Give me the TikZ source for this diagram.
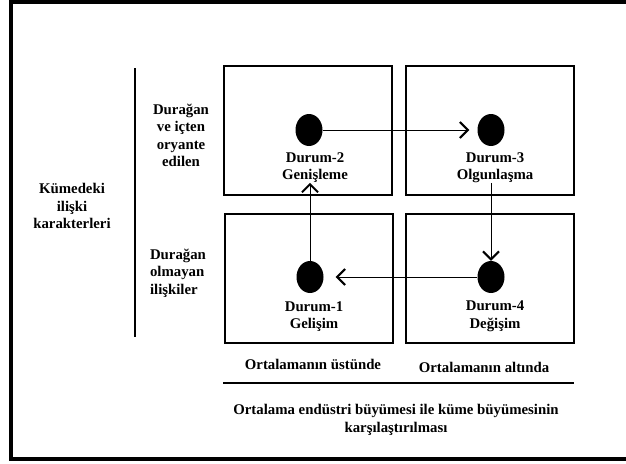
\documentclass[tikz,border=0pt]{standalone}
\usepackage{fontspec}
\setmainfont{Liberation Serif}
\usetikzlibrary{arrows.meta,shapes.geometric}
\begin{document}
\begin{tikzpicture}[x=1pt,y=-1pt,
  cell/.style={draw,line width=2pt,minimum width=168pt,minimum height=129pt,inner sep=0pt},
  dot/.style={ellipse,fill=black,minimum width=27pt,minimum height=32pt,inner sep=0pt},
  lbl/.style={font=\bfseries\fontsize{14.8}{17.5}\selectfont,align=center,inner sep=0pt},
  flow/.style={line width=0.9pt,-{Straight Barb[length=8pt,width=16pt,line width=2pt]}},
  rule/.style={line width=2.2pt}]
\useasboundingbox (0,0) rectangle (626,463);
\begin{scope}
\clip (0,0) rectangle (626,463);
\draw[line width=3.6pt] (11,2) rectangle (640,459);
\end{scope}
% cells
\node[cell] (c2) at (308,130.5) {};
\node[cell] (c3) at (490,130.5) {};
\node[cell] (c1) at (309,278) {};
\node[cell] (c4) at (490,278) {};
% dots
\node[dot] (d2) at (309,130) {};
\node[dot] (d3) at (491,130) {};
\node[dot] (d1) at (310,277) {};
\node[dot] (d4) at (491,277) {};
% state labels
\node[lbl] (l2) at (315,167.5) {Durum-2\\Genişleme};
\node[lbl] (l3) at (495,167.5) {Durum-3\\Olgunlaşma};
\node[lbl] (l1) at (314,316.5) {Durum-1\\Gelişim};
\node[lbl] (l4) at (495,316.5) {Durum-4\\Değişim};
% row labels
\node[lbl] (r1) at (181,135.5) {Durağan\\ve içten\\oryante\\edilen};
\node[lbl,align=left] (r2) at (178,273) {Durağan\\olmayan\\ilişkiler};
\node[lbl] (k) at (72,206) {Kümedeki\\ilişki\\karakterleri};
% column labels
\node[lbl] (o1) at (313,364) {Ortalamanın üstünde};
\node[lbl] (o2) at (484,367) {Ortalamanın altında};
\node[lbl] (t) at (396,420) {Ortalama endüstri büyümesi ile küme büyümesinin\\karşılaştırılması};
% axes
\coordinate (vt) at (135,68);
\coordinate (vb) at (135,337);
\draw[rule] (vt) -- (vb);
\coordinate (hl) at (223,383);
\coordinate (hr) at (574,383);
\draw[rule] (hl) -- (hr);
% flows
\draw[flow,shorten >=8pt] (d2.east) -- (d3.west);
\draw[flow] (l3.south -| d4.north) -- (d4.north);
\draw[flow,shorten >=12pt] (d4.west) -- (d1.east);
\draw[flow] (d1.north) -- (d1.north |- l2.south);
\end{tikzpicture}
\end{document}
